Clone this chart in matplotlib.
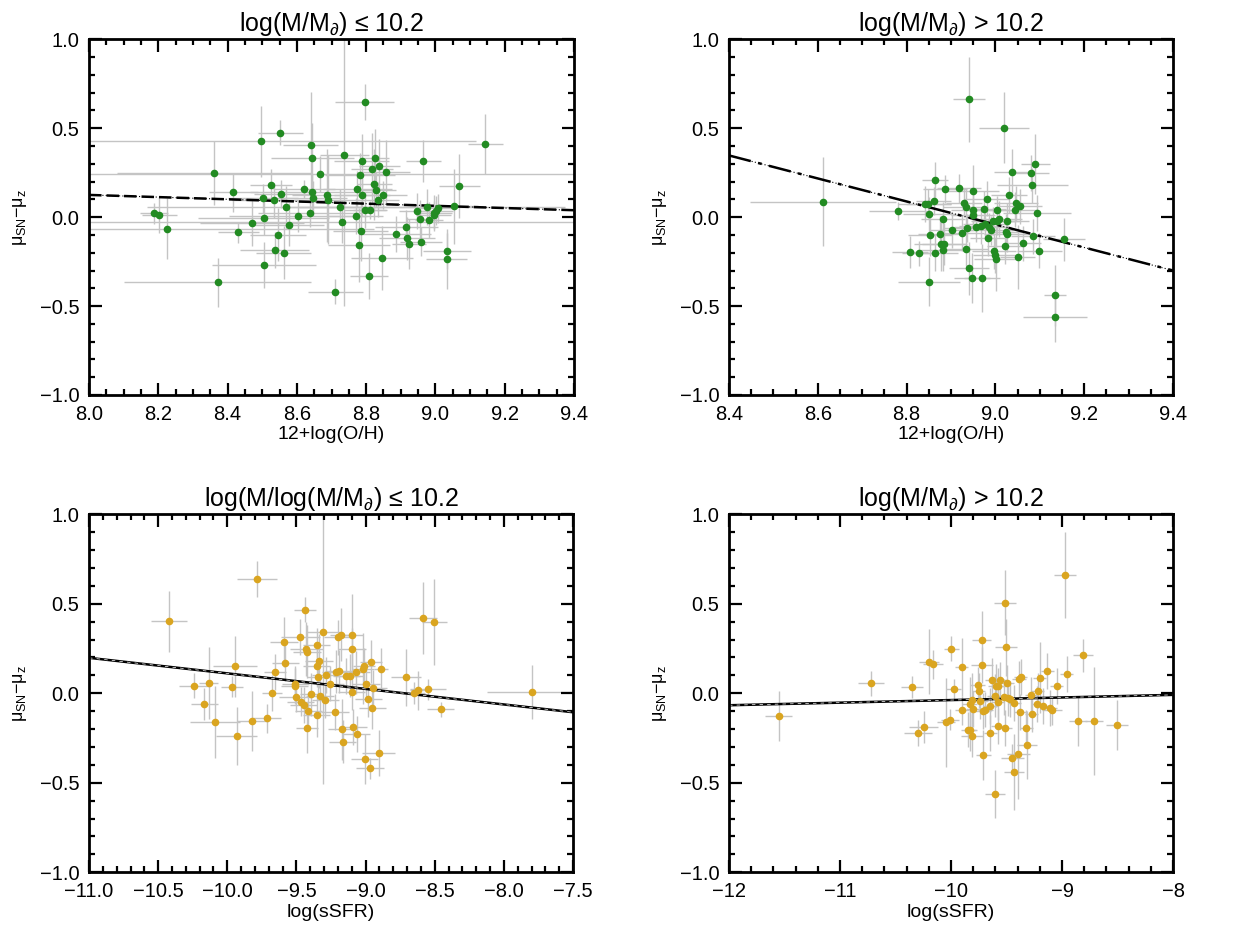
import matplotlib.pyplot as plt
from matplotlib.ticker import MultipleLocator, FuncFormatter
import numpy as np

plt.rcParams['font.family'] = ['Liberation Sans', 'DejaVu Sans']
plt.rcParams['mathtext.fontset'] = 'custom'
plt.rcParams['mathtext.rm'] = 'Liberation Sans'
plt.rcParams['mathtext.it'] = 'Liberation Sans'

# ---- panel 1: 12+log(O/H), low mass ----
oh_lo = [8.188, 8.203, 8.224, 8.360, 8.372, 8.417, 8.431, 8.470, 8.497, 8.502,
         8.504, 8.504, 8.525, 8.533, 8.536, 8.546, 8.552, 8.555, 8.562, 8.568,
         8.577, 8.603, 8.620, 8.637, 8.640, 8.644, 8.644, 8.646, 8.666, 8.686,
         8.691, 8.711, 8.725, 8.729, 8.737, 8.770, 8.774, 8.779, 8.782, 8.784,
         8.787, 8.788, 8.796, 8.796, 8.807, 8.811, 8.817, 8.824, 8.825, 8.827,
         8.834, 8.838, 8.846, 8.848, 8.858, 8.887, 8.916, 8.918, 8.924, 8.946,
         8.955, 8.959, 8.965, 8.975, 8.981, 8.995, 8.997, 9.001, 9.006, 9.032,
         9.034, 9.054, 9.069, 9.144]
dmu_oh_lo = [0.022, 0.013, -0.064, 0.249, -0.367, 0.139, -0.086, -0.032, 0.427, 0.105,
             -0.002, -0.270, 0.182, 0.094, -0.184, -0.099, 0.474, 0.129, -0.199, 0.056,
             -0.043, 0.006, 0.157, 0.026, 0.406, 0.330, 0.142, 0.105, 0.243, 0.122,
             0.099, -0.419, 0.058, -0.028, 0.348, 0.006, 0.157, -0.157, 0.238, -0.077,
             0.318, 0.127, 0.646, 0.041, -0.331, 0.041, 0.272, 0.185, 0.333, 0.155,
             0.099, 0.290, -0.227, 0.125, 0.253, -0.094, -0.058, -0.120, -0.152, 0.034,
             -0.011, -0.137, 0.315, 0.056, -0.017, 0.011, 0.024, 0.037, 0.049, -0.236,
             -0.189, 0.060, 0.176, 0.410]
xe_oh_lo = [0.04, 0.05, 0.60, 0.28, 0.27, 0.07, 0.06, 0.15, 0.62, 0.10,
            0.19, 0.15, 0.06, 0.12, 0.10, 0.08, 0.065, 0.08, 0.08, 0.40,
            0.10, 0.20, 0.09, 0.15, 0.08, 0.12, 0.18, 0.10, 0.90, 0.10,
            0.10, 0.08, 0.12, 0.90, 0.07, 0.08, 0.10, 0.09, 0.10, 0.08,
            0.08, 0.08, 0.085, 0.06, 0.055, 0.05, 0.06, 0.05, 0.04, 0.06,
            0.06, 0.06, 0.09, 0.07, 0.07, 0.10, 0.09, 0.08, 0.05, 0.05,
            0.04, 0.06, 0.05, 0.40, 0.04, 0.05, 0.05, 0.05, 0.05, 0.06,
            0.07, 0.07, 0.06, 0.05]
ye_oh_lo = [0.06, 0.10, 0.17, 0.18, 0.14, 0.11, 0.06, 0.13, 0.20, 0.08,
            0.10, 0.13, 0.09, 0.10, 0.10, 0.15, 0.07, 0.08, 0.15, 0.12,
            0.12, 0.09, 0.05, 0.08, 0.30, 0.20, 0.10, 0.10, 0.10, 0.26,
            0.25, 0.07, 0.10, 0.12, 0.85, 0.10, 0.10, 0.21, 0.12, 0.17,
            0.15, 0.12, 0.10, 0.10, 0.13, 0.05, 0.20, 0.20, 0.16, 0.10,
            0.10, 0.15, 0.18, 0.08, 0.18, 0.10, 0.10, 0.12, 0.14, 0.10,
            0.11, 0.08, 0.12, 0.10, 0.10, 0.08, 0.10, 0.08, 0.08, 0.17,
            0.10, 0.21, 0.18, 0.17]
fit_oh_lo = [(8.0, 9.4), (0.125, 0.039)]

# ---- panel 2: 12+log(O/H), high mass ----
oh_hi = [8.612, 8.781, 8.808, 8.829, 8.841, 8.849, 8.851, 8.851, 8.853, 8.861,
         8.864, 8.865, 8.875, 8.877, 8.881, 8.882, 8.884, 8.887, 8.902, 8.918,
         8.924, 8.929, 8.933, 8.934, 8.935, 8.940, 8.941, 8.947, 8.949, 8.949,
         8.950, 8.956, 8.967, 8.970, 8.974, 8.976, 8.980, 8.983, 8.985, 8.989,
         8.995, 8.997, 9.000, 9.002, 9.003, 9.003, 9.009, 9.019, 9.021, 9.024,
         9.025, 9.025, 9.030, 9.037, 9.043, 9.046, 9.050, 9.055, 9.063, 9.081,
         9.083, 9.085, 9.090, 9.094, 9.099, 9.134, 9.134, 9.154]
dmu_oh_hi = [0.088, 0.034, -0.194, -0.203, 0.075, 0.076, 0.015, -0.362, -0.101, 0.091,
             0.209, -0.203, -0.095, -0.153, -0.183, -0.013, -0.151, 0.159, -0.073, 0.162,
             -0.090, 0.082, 0.058, -0.177, -0.060, -0.287, 0.662, -0.341, 0.146, 0.041,
             0.013, -0.058, -0.050, -0.341, 0.047, -0.041, 0.104, -0.116, -0.056, -0.075,
             -0.022, -0.190, -0.215, -0.235, -0.019, 0.041, -0.011, 0.504, -0.162, -0.082,
             -0.097, -0.019, 0.123, 0.256, 0.043, 0.078, -0.222, 0.060, -0.147, 0.248,
             0.179, -0.108, 0.299, 0.022, -0.188, -0.440, -0.562, -0.125]
xe_oh_hi = [0.165, 0.065, 0.04, 0.04, 0.06, 0.05, 0.06, 0.07, 0.05, 0.04,
            0.03, 0.05, 0.05, 0.06, 0.05, 0.05, 0.05, 0.05, 0.05, 0.05,
            0.05, 0.04, 0.05, 0.05, 0.05, 0.045, 0.036, 0.04, 0.06, 0.05,
            0.05, 0.05, 0.05, 0.04, 0.05, 0.05, 0.05, 0.04, 0.05, 0.05,
            0.05, 0.05, 0.05, 0.05, 0.05, 0.05, 0.05, 0.056, 0.04, 0.04,
            0.05, 0.05, 0.04, 0.04, 0.05, 0.05, 0.04, 0.05, 0.04, 0.04,
            0.08, 0.05, 0.032, 0.077, 0.05, 0.025, 0.072, 0.048]
ye_oh_hi = [0.25, 0.05, 0.09, 0.07, 0.10, 0.08, 0.10, 0.14, 0.12, 0.08,
            0.10, 0.10, 0.10, 0.15, 0.12, 0.10, 0.12, 0.08, 0.10, 0.08,
            0.10, 0.08, 0.10, 0.10, 0.08, 0.15, 0.24, 0.14, 0.15, 0.10,
            0.08, 0.08, 0.10, 0.19, 0.10, 0.08, 0.10, 0.10, 0.08, 0.08,
            0.08, 0.10, 0.10, 0.18, 0.08, 0.08, 0.10, 0.20, 0.10, 0.10,
            0.10, 0.10, 0.10, 0.13, 0.10, 0.10, 0.18, 0.10, 0.10, 0.10,
            0.10, 0.10, 0.17, 0.10, 0.10, 0.17, 0.14, 0.12]
fit_oh_hi = [(8.4, 9.4), (0.347, -0.300)]

# ---- panel 3: log(sSFR), low mass ----
ssfr_lo = [-10.419, -10.238, -10.166, -10.135, -10.089, -9.964, -9.944, -9.932, -9.819, -9.783,
           -9.715, -9.677, -9.655, -9.588, -9.580, -9.513, -9.508, -9.506, -9.472, -9.470,
           -9.448, -9.441, -9.429, -9.426, -9.426, -9.414, -9.395, -9.354, -9.354, -9.354,
           -9.342, -9.335, -9.332, -9.308, -9.291, -9.289, -9.255, -9.221, -9.216, -9.202,
           -9.194, -9.180, -9.171, -9.166, -9.139, -9.113, -9.101, -9.098, -9.096, -9.089,
           -9.069, -9.065, -9.021, -9.014, -9.007, -8.997, -8.980, -8.966, -8.959, -8.951,
           -8.947, -8.906, -8.891, -8.706, -8.653, -8.621, -8.587, -8.549, -8.503, -8.457,
           -7.799]
dmu_ssfr_lo = [0.403, 0.043, -0.060, 0.056, -0.160, 0.037, 0.151, -0.239, -0.155, 0.638,
               -0.140, 0.002, 0.121, 0.284, 0.170, 0.039, 0.054, -0.022, 0.315, -0.047,
               -0.065, 0.466, 0.246, 0.233, -0.194, -0.097, -0.006, 0.267, 0.153, -0.123,
               0.093, 0.181, -0.015, 0.343, -0.037, 0.103, 0.054, -0.103, 0.121, 0.312,
               0.123, 0.328, -0.201, -0.272, 0.095, 0.097, 0.009, 0.325, 0.246, -0.188,
               0.116, -0.229, 0.138, 0.155, -0.368, 0.054, -0.034, -0.420, 0.177, -0.080,
               0.032, -0.334, 0.134, 0.090, 0.002, 0.017, 0.422, 0.022, 0.399, -0.090,
               0.006]
xe_ssfr_lo = [0.13, 0.11, 0.10, 0.07, 0.18, 0.08, 0.16, 0.15, 0.11, 0.145,
              0.10, 0.07, 0.08, 0.10, 0.10, 0.10, 0.10, 0.12, 0.14, 0.10,
              0.10, 0.08, 0.12, 0.10, 0.08, 0.10, 0.08, 0.10, 0.10, 0.10,
              0.08, 0.10, 0.10, 0.12, 0.10, 0.10, 0.10, 0.10, 0.10, 0.10,
              0.10, 0.08, 0.10, 0.10, 0.10, 0.10, 0.10, 0.08, 0.10, 0.10,
              0.10, 0.10, 0.08, 0.08, 0.10, 0.10, 0.10, 0.10, 0.08, 0.10,
              0.10, 0.12, 0.05, 0.11, 0.08, 0.06, 0.10, 0.13, 0.09, 0.10,
              0.32]
ye_ssfr_lo = [0.17, 0.07, 0.09, 0.20, 0.20, 0.06, 0.17, 0.16, 0.17, 0.10,
              0.08, 0.10, 0.10, 0.14, 0.10, 0.10, 0.10, 0.08, 0.10, 0.08,
              0.10, 0.07, 0.15, 0.15, 0.14, 0.10, 0.12, 0.10, 0.12, 0.12,
              0.10, 0.15, 0.10, 0.85, 0.10, 0.10, 0.10, 0.10, 0.12, 0.10,
              0.12, 0.15, 0.17, 0.12, 0.10, 0.12, 0.10, 0.23, 0.12, 0.10,
              0.12, 0.10, 0.20, 0.10, 0.14, 0.10, 0.10, 0.06, 0.12, 0.12,
              0.10, 0.13, 0.12, 0.16, 0.06, 0.11, 0.20, 0.06, 0.24, 0.04,
              0.15]
fit_ssfr_lo = [(-11.0, -7.5), (0.198, -0.106)]

# ---- panel 4: log(sSFR), high mass ----
ssfr_hi = [-11.553, -10.721, -10.354, -10.297, -10.246, -10.198, -10.162, -10.045, -10.012, -9.997,
           -9.976, -9.904, -9.901, -9.844, -9.832, -9.826, -9.811, -9.808, -9.799, -9.760,
           -9.751, -9.739, -9.724, -9.724, -9.712, -9.709, -9.691, -9.646, -9.646, -9.628,
           -9.607, -9.595, -9.580, -9.580, -9.574, -9.559, -9.601, -9.523, -9.517, -9.514,
           -9.502, -9.496, -9.484, -9.466, -9.447, -9.429, -9.429, -9.393, -9.387, -9.375,
           -9.372, -9.321, -9.312, -9.276, -9.273, -9.222, -9.219, -9.201, -9.171, -9.132,
           -9.105, -9.093, -9.048, -8.970, -8.958, -8.853, -8.814, -8.709, -8.505]
dmu_ssfr_hi = [-0.127, 0.056, 0.034, -0.222, -0.190, 0.177, 0.162, -0.162, -0.147, 0.248,
               0.022, 0.146, -0.095, -0.203, -0.060, -0.203, -0.035, -0.237, -0.086, 0.047,
               0.015, -0.041, 0.299, 0.159, -0.101, -0.343, -0.091, -0.073, -0.224, 0.075,
               -0.013, 0.041, -0.181, -0.050, 0.043, 0.073, -0.562, -0.021, 0.506, -0.196,
               0.256, 0.060, -0.028, -0.030, -0.362, -0.056, -0.440, -0.341, 0.080, -0.106,
               0.091, -0.194, -0.287, -0.011, -0.118, -0.058, 0.015, 0.088, -0.073, 0.123,
               -0.084, -0.095, 0.041, 0.662, 0.106, -0.153, 0.211, -0.155, -0.175]
xe_ssfr_hi = [0.12, 0.12, 0.10, 0.13, 0.13, 0.09, 0.09, 0.08, 0.08, 0.07,
              0.07, 0.06, 0.06, 0.07, 0.07, 0.06, 0.07, 0.10, 0.07, 0.07,
              0.06, 0.07, 0.085, 0.10, 0.07, 0.07, 0.07, 0.07, 0.06, 0.07,
              0.07, 0.07, 0.06, 0.06, 0.07, 0.06, 0.09, 0.06, 0.10, 0.06,
              0.10, 0.06, 0.06, 0.06, 0.10, 0.06, 0.09, 0.10, 0.06, 0.06,
              0.06, 0.06, 0.09, 0.06, 0.06, 0.06, 0.06, 0.06, 0.06, 0.06,
              0.06, 0.09, 0.06, 0.10, 0.06, 0.08, 0.09, 0.08, 0.10]
ye_ssfr_hi = [0.14, 0.07, 0.06, 0.07, 0.09, 0.18, 0.08, 0.25, 0.06, 0.07,
              0.06, 0.16, 0.08, 0.10, 0.15, 0.12, 0.15, 0.12, 0.10, 0.10,
              0.10, 0.10, 0.16, 0.10, 0.10, 0.14, 0.10, 0.10, 0.10, 0.12,
              0.12, 0.12, 0.10, 0.10, 0.10, 0.10, 0.135, 0.10, 0.18, 0.10,
              0.16, 0.10, 0.10, 0.10, 0.08, 0.10, 0.21, 0.25, 0.10, 0.10,
              0.10, 0.10, 0.19, 0.10, 0.10, 0.10, 0.10, 0.20, 0.10, 0.10,
              0.10, 0.08, 0.10, 0.24, 0.10, 0.14, 0.09, 0.30, 0.14]
fit_ssfr_hi = [(-12.0, -8.0), (-0.067, -0.009)]

title_lo = r'log(M/M$_{\partial}$) ≤ 10.2'
title_lo_ssfr = r'log(M/log(M/M$_{\partial}$) ≤ 10.2'
title_hi = r'log(M/M$_{\partial}$) > 10.2'
ylab = r'$\mu_{\rm SN}$$-$$\mu_{\rm z}$'

green = '#228B22'
gold = '#DAA520'
gray = '#C4C4C4'


def fmt_func(fmt):
    return FuncFormatter(lambda v, pos: (fmt % v).replace('-', '\u2212'))


fig = plt.figure(figsize=(12.47, 9.34), dpi=100)
boxes = [[0.0714, 0.5771, 0.3889, 0.3808],
         [0.5846, 0.5771, 0.3561, 0.3808],
         [0.0714, 0.0661, 0.3881, 0.3833],
         [0.5846, 0.0661, 0.3561, 0.3833]]

panels = [
    (oh_lo, dmu_oh_lo, xe_oh_lo, ye_oh_lo, fit_oh_lo, green, title_lo, '12+log(O/H)',
     (8.0, 9.4), 0.2, 0.05, '%.1f', (0, (5, 2))),
    (oh_hi, dmu_oh_hi, xe_oh_hi, ye_oh_hi, fit_oh_hi, green, title_hi, '12+log(O/H)',
     (8.4, 9.4), 0.2, 0.05, '%.1f', (0, (9, 3, 1.5, 3))),
    (ssfr_lo, dmu_ssfr_lo, xe_ssfr_lo, ye_ssfr_lo, fit_ssfr_lo, gold, title_lo_ssfr, 'log(sSFR)',
     (-11.0, -7.5), 0.5, 0.1, '%.1f', '-'),
    (ssfr_hi, dmu_ssfr_hi, xe_ssfr_hi, ye_ssfr_hi, fit_ssfr_hi, gold, title_hi, 'log(sSFR)',
     (-12.0, -8.0), 1.0, 0.2, '%d', '-'),
]

for box, p in zip(boxes, panels):
    x, y, xe, ye, fit, col, title, xlab, xlim, maj, mnr, fmt, ls = p
    ax = fig.add_axes(box)
    ax.errorbar(x, y, xerr=xe, yerr=ye, fmt='none', ecolor=gray, elinewidth=1, zorder=1)
    ax.plot(x, y, 'o', color=col, markersize=5.5, markeredgewidth=0, zorder=3)
    ax.plot(fit[0], fit[1], color='black', linestyle=ls, linewidth=1.8, zorder=2)
    if ls == '-':
        ax.plot(fit[0], fit[1], color='white', linestyle=(0, (5, 6)), linewidth=0.5, zorder=2)
    else:
        ax.plot(fit[0], fit[1], color='black', linestyle=(0, (1, 2)), linewidth=0.8, zorder=2)
    ax.set_xlim(xlim)
    ax.set_ylim(-1.0, 1.0)
    ax.xaxis.set_major_locator(MultipleLocator(maj))
    ax.xaxis.set_minor_locator(MultipleLocator(mnr))
    ax.yaxis.set_major_locator(MultipleLocator(0.5))
    ax.yaxis.set_minor_locator(MultipleLocator(0.1))
    ax.xaxis.set_major_formatter(fmt_func(fmt))
    ax.yaxis.set_major_formatter(fmt_func('%.1f'))
    ax.tick_params(which='both', direction='in', top=True, right=True, width=1.6,
                   labelsize=14.5, pad=7)
    ax.tick_params(which='major', length=9)
    ax.tick_params(which='minor', length=4.5)
    for s in ax.spines.values():
        s.set_linewidth(2)
    ax.set_title(title, fontsize=18, pad=6)
    ax.set_xlabel(xlab, fontsize=14, labelpad=2)
    ax.set_ylabel(ylab, fontsize=13, labelpad=8)

fig.savefig('out.png', dpi=100)
